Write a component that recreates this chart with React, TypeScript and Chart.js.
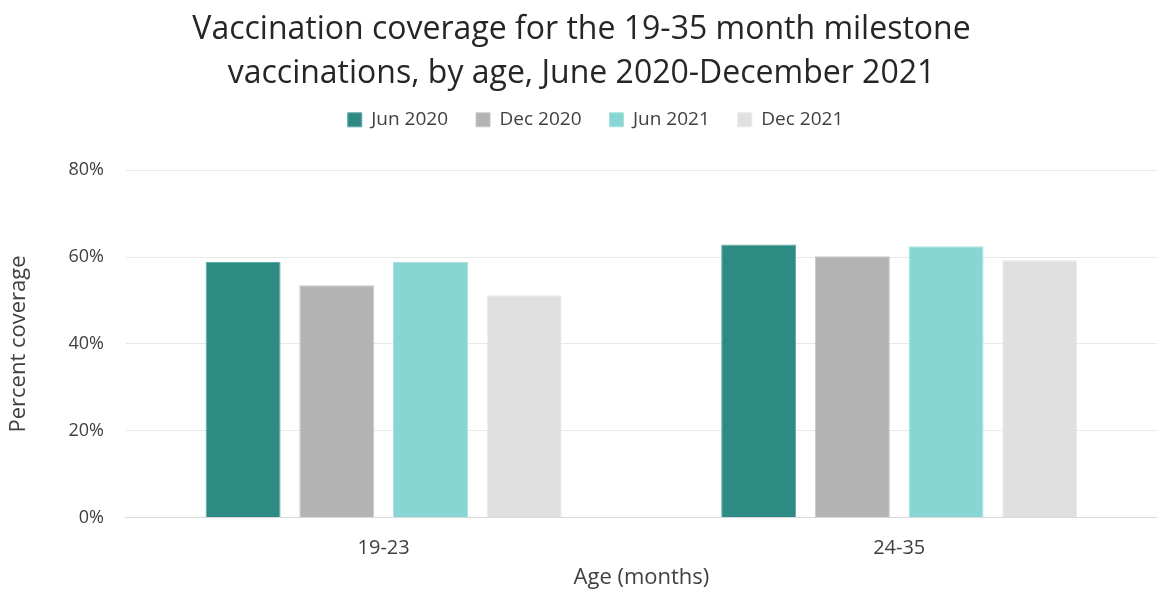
import React, { useEffect, useRef } from "react";
import { Chart, registerables } from "chart.js";

Chart.register(...registerables);

const categories = ["19-23", "24-35"];
const seriesNames = ["Jun 2020", "Dec 2020", "Jun 2021", "Dec 2021"];
const jun2020 = [58.9, 62.9];
const dec2020 = [53.5, 60.2];
const jun2021 = [58.9, 62.5];
const dec2021 = [51.2, 59.3];
const yTicks = [0, 20, 40, 60, 80];
const colors = ["#2E8B84", "#B3B3B3", "#88D6D3", "#E0E0E0"];
const borders = ["#5FA9A3", "#C8C8C8", "#A9E2DF", "#EAEAEA"];

const legendMargin = {
  id: "legendMargin",
  beforeInit(chart: any) {
    const legend = chart.legend;
    if (!legend) return;
    const fit = legend.fit;
    legend.fit = function () {
      fit.bind(legend)();
      this.height += 31;
    };
  },
  afterLayout(chart: any) {
    const legend = chart.legend;
    if (!legend) return;
    legend.left += 14;
    legend.right += 14;
  },
};

export default function App() {
  const ref = useRef<HTMLCanvasElement | null>(null);
  useEffect(() => {
    if (!ref.current) return;
    const values = [jun2020, dec2020, jun2021, dec2021];
    const font = "'Open Sans', 'Noto Sans', sans-serif";
    const chart = new Chart(ref.current, {
      type: "bar",
      data: {
        labels: categories,
        datasets: seriesNames.map((n, i) => ({
          label: n,
          data: values[i],
          backgroundColor: colors[i],
          borderColor: borders[i],
          borderWidth: 1,
          barPercentage: 0.8,
          categoryPercentage: 0.727,
        })),
      },
      options: {
        animation: false,
        responsive: false,
        maintainAspectRatio: false,
        layout: { padding: { left: 6, right: 0, top: 8, bottom: 0 } },
        plugins: {
          title: {
            display: true,
            text: [
              "Vaccination coverage for the 19-35 month milestone",
              "vaccinations, by age, June 2020-December 2021",
            ],
            color: "#262626",
            font: { family: font, size: 32, weight: "normal", lineHeight: 1.38 },
            padding: { top: 0, bottom: -14 },
          },
          legend: {
            position: "top",
            labels: {
              color: "#404040",
              boxWidth: 14,
              boxHeight: 14,
              padding: 28,
              font: { family: font, size: 19 },
            },
          },
          tooltip: { enabled: false },
        },
        scales: {
          x: {
            grid: { display: false, drawTicks: false },
            border: { display: true, color: "#D9D9D9" },
            ticks: { color: "#404040", padding: 19, font: { family: font, size: 20 } },
            title: {
              display: true,
              text: "Age (months)",
              color: "#404040",
              font: { family: font, size: 22 },
              padding: { top: -15, bottom: 0 },
            },
          },
          y: {
            min: 0,
            max: 80,
            afterBuildTicks: (axis: any) => {
              axis.ticks = yTicks.map((v) => ({ value: v }));
            },
            grid: { color: "#E8E8E8", drawTicks: false },
            border: { display: false },
            ticks: {
              color: "#404040",
              padding: 22,
              font: { family: font, size: 18 },
              callback: (v: any) => v + "%",
            },
            title: {
              display: true,
              text: "Percent coverage",
              color: "#404040",
              font: { family: font, size: 22 },
              padding: { top: 0, bottom: 14 },
            },
          },
        },
      },
      plugins: [legendMargin],
    });
    return () => chart.destroy();
  }, []);
  return (
    <div style={{ position: "fixed", left: 0, top: 0, width: 1157, height: 591, background: "#fff" }}>
      <canvas ref={ref} width={1157} height={591} style={{ width: 1157, height: 591 }} />
    </div>
  );
}
